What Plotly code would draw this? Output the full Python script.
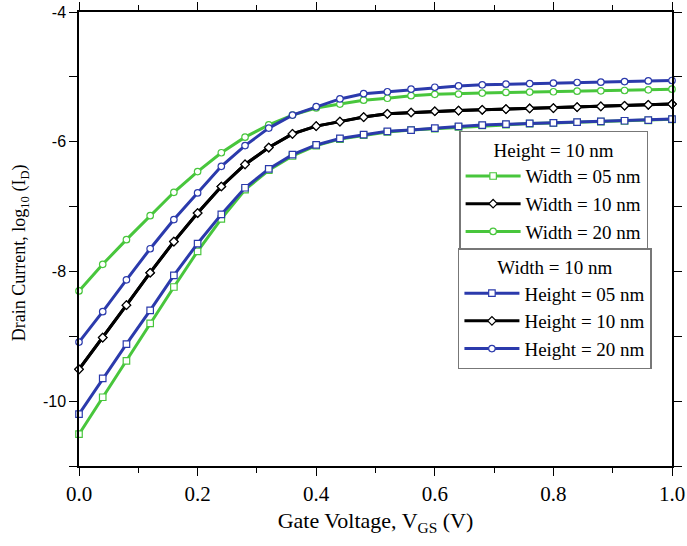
import plotly.graph_objects as go

vgs = [0.00, 0.04, 0.08, 0.12, 0.16, 0.20, 0.24, 0.28, 0.32, 0.36, 0.40, 0.44, 0.48,
       0.52, 0.56, 0.60, 0.64, 0.68, 0.72, 0.76, 0.80, 0.84, 0.88, 0.92, 0.96, 1.00]

width_05 = [-10.51, -9.94, -9.38, -8.80, -8.24, -7.69, -7.19, -6.74, -6.44, -6.22, -6.06, -5.96, -5.90,
            -5.85, -5.82, -5.80, -5.77, -5.75, -5.735, -5.72, -5.71, -5.70, -5.69, -5.68, -5.67, -5.655]
width_10 = [-9.51, -9.02, -8.52, -8.02, -7.54, -7.10, -6.69, -6.35, -6.09, -5.88, -5.76, -5.69, -5.62,
            -5.57, -5.55, -5.53, -5.52, -5.508, -5.497, -5.487, -5.482, -5.467, -5.456, -5.446, -5.431, -5.42]
width_20 = [-8.30, -7.89, -7.51, -7.14, -6.78, -6.46, -6.17, -5.93, -5.74, -5.59, -5.48, -5.42, -5.36,
            -5.33, -5.29, -5.27, -5.265, -5.25, -5.24, -5.235, -5.23, -5.22, -5.215, -5.21, -5.20, -5.19]
height_05 = [-10.20, -9.65, -9.12, -8.60, -8.06, -7.57, -7.12, -6.71, -6.42, -6.20, -6.05, -5.95, -5.89,
             -5.84, -5.82, -5.79, -5.764, -5.744, -5.728, -5.718, -5.708, -5.697, -5.687, -5.677, -5.667, -5.651]
height_10 = width_10
height_20 = [-9.09, -8.62, -8.13, -7.65, -7.20, -6.79, -6.38, -6.06, -5.79, -5.59, -5.46, -5.34, -5.26,
             -5.23, -5.19, -5.16, -5.14, -5.123, -5.113, -5.103, -5.097, -5.087, -5.082, -5.072, -5.062, -5.056]

x_ticks = [0.0, 0.2, 0.4, 0.6, 0.8, 1.0]
x_tick_labels = ["0.0", "0.2", "0.4", "0.6", "0.8", "1.0"]
y_ticks = [-4, -6, -8, -10]
y_tick_labels = ["-4", "-6", "-8", "-10"]

GREEN = "#48c63c"
BLUE = "#2b3aac"
BLACK = "#000000"
SERIF = "Liberation Serif"

series = [
    ("Width = 05 nm", width_05, GREEN, "square", "legend"),
    ("Width = 10 nm", width_10, BLACK, "diamond", "legend"),
    ("Width = 20 nm", width_20, GREEN, "circle", "legend"),
    ("Height = 05 nm", height_05, BLUE, "square", "legend2"),
    ("Height = 10 nm", height_10, BLACK, "diamond", "legend2"),
    ("Height = 20 nm", height_20, BLUE, "circle", "legend2"),
]

fig = go.Figure()
for name, ys, color, sym, leg in series:
    fig.add_trace(go.Scatter(
        x=vgs, y=ys, name=name, mode="lines+markers", legend=leg,
        line=dict(color=color, width=3),
        marker=dict(symbol=sym, size=6.5, color="white", line=dict(color=color, width=1.2)),
        cliponaxis=False,
    ))

LEG_FS = 19
fig.update_layout(
    width=687, height=546,
    margin=dict(l=79, r=15, t=12, b=80),
    plot_bgcolor="white", paper_bgcolor="white",
    font=dict(family=SERIF, color="black"),
    legend=dict(
        title=dict(text="Height = 10 nm", side="top center", font=dict(family=SERIF, size=LEG_FS)),
        x=0.641, y=0.738, xanchor="left", yanchor="top",
        font=dict(family=SERIF, size=LEG_FS), bordercolor="#777777", borderwidth=1.5,
        bgcolor="white", itemwidth=55, tracegroupgap=0,
    ),
    legend2=dict(
        title=dict(text="Width = 10 nm", side="top center", font=dict(family=SERIF, size=LEG_FS)),
        x=0.639, y=0.480, xanchor="left", yanchor="top",
        font=dict(family=SERIF, size=LEG_FS), bordercolor="#777777", borderwidth=1.5,
        bgcolor="white", itemwidth=55, tracegroupgap=0,
    ),
    annotations=[dict(
        text="Drain Current, log<sub>10</sub> (I<sub>D</sub>)", textangle=-90,
        xref="paper", yref="paper", x=-0.0995, y=0.471, xanchor="center", yanchor="middle",
        showarrow=False, font=dict(family=SERIF, size=18),
    )],
)

fig.update_xaxes(
    range=[0, 1], tickvals=x_ticks, ticktext=x_tick_labels, automargin=False,
    ticks="outside", ticklen=8, tickwidth=1.3, tickcolor="black",
    showline=True, linecolor="black", linewidth=1.5, mirror="ticks",
    showgrid=False, zeroline=False, ticklabeloverflow="allow",
    tickfont=dict(family=SERIF, size=21),
    minor=dict(tickvals=[0.1, 0.3, 0.5, 0.7, 0.9], ticks="outside", ticklen=5, tickcolor="black", tickwidth=1.3),
    title=dict(text="Gate Voltage, V<sub>GS</sub> (V)", font=dict(family=SERIF, size=22), standoff=8),
)
fig.update_yaxes(
    range=[-11, -4], tickvals=y_ticks, ticktext=y_tick_labels, automargin=False,
    ticks="outside", ticklen=8, tickwidth=1.3, tickcolor="black",
    showline=True, linecolor="black", linewidth=1.5, mirror="ticks",
    showgrid=False, zeroline=False, ticklabeloverflow="allow",
    tickfont=dict(family="Liberation Sans", size=16),
    minor=dict(tickvals=[-5, -7, -9, -11], ticks="outside", ticklen=8, tickcolor="black", tickwidth=1.3),
)

fig.write_html(
    "out.html",
    config={"displayModeBar": False},
    post_script="document.body.style.margin='0px';document.body.style.overflow='hidden';",
)
